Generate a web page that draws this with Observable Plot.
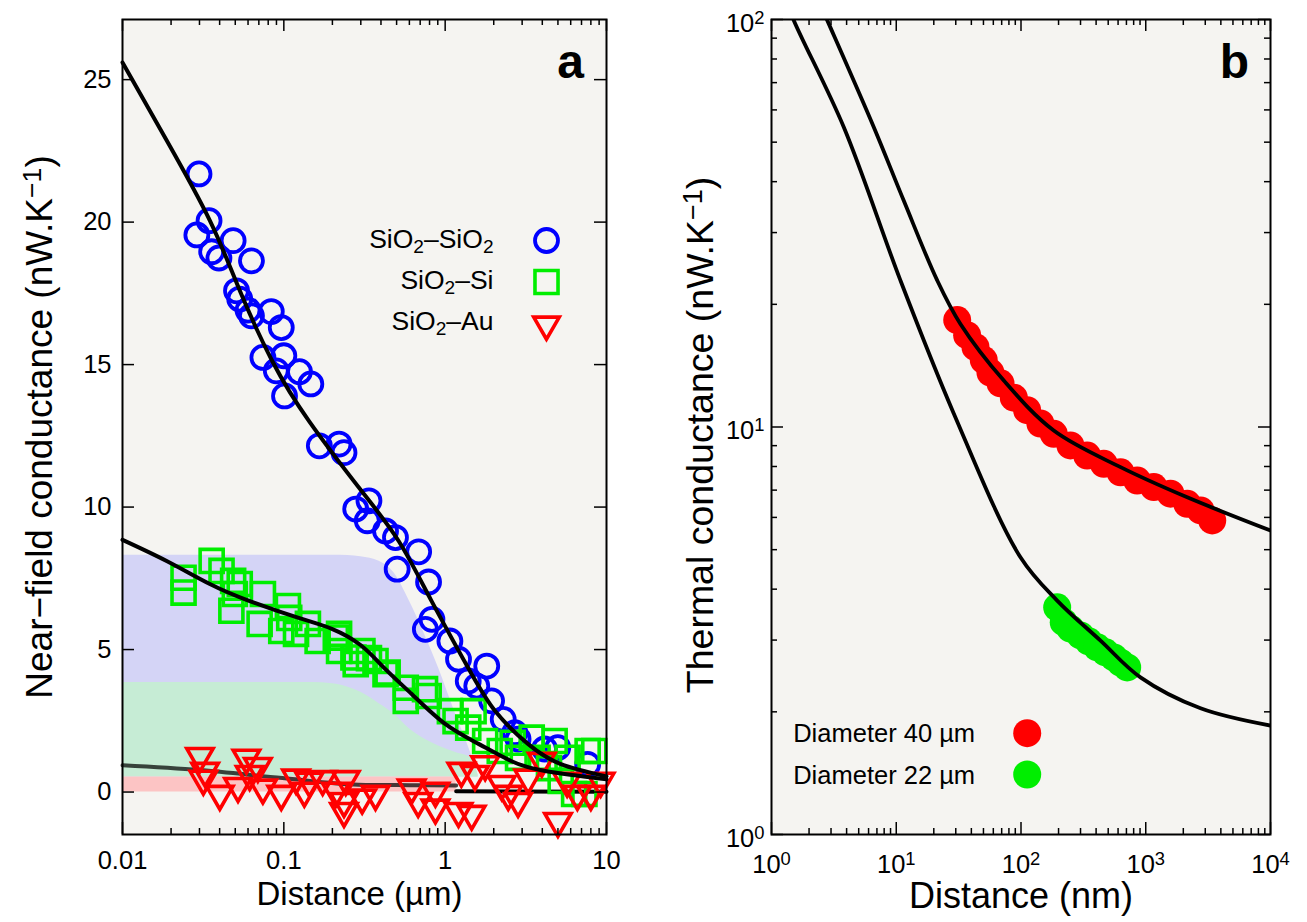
<!DOCTYPE html>
<html><head><meta charset="utf-8">
<script src="https://cdn.jsdelivr.net/npm/d3@7"></script>
<script src="https://cdn.jsdelivr.net/npm/@observablehq/plot@0.6"></script>
<style>
html,body{margin:0;padding:0;background:#fff;}
#wrap{position:relative;width:1307px;height:922px;overflow:hidden;font-family:"Liberation Sans",Arial,Helvetica,sans-serif;}
#pa{position:absolute;left:0;top:0;}
#pb{position:absolute;left:660px;top:0;}
</style></head><body><div id="wrap"><div id="pa"></div><div id="pb"></div></div>
<script>
// ================= Panel a data (distance in µm, conductance in nW/K) =================
const sio2X = [0.0298,0.0344,0.0289,0.0357,0.0396,0.0485,0.0630,0.0509,0.0533,0.060,0.0630,0.0836,0.0964,0.0742,0.100,0.0898,0.125,0.147,0.101,0.166,0.220,0.236,0.279,0.337,0.329,0.427,0.492,0.504,0.685,0.789,0.754,0.828,1.07,1.21,1.39,1.81,1.57,1.94,2.29,2.70,2.83,4.99,4.13,7.64];
const sio2Y = [21.69,20.05,19.55,18.96,18.74,19.35,18.64,17.59,17.30,16.91,16.71,16.86,16.30,15.25,15.31,14.78,14.75,14.32,13.90,12.15,12.21,11.91,9.93,10.22,9.52,9.16,8.93,7.82,8.43,7.37,5.71,6.06,5.30,4.66,3.90,4.42,3.72,3.20,2.55,2.08,1.86,1.56,1.51,0.97];

const siX = [0.0239,0.0239,0.0357,0.0411,0.0485,0.0497,0.0473,0.0533,0.0742,0.0708,0.106,0.108,0.0964,0.119,0.141,0.162,0.220,0.220,0.307,0.337,0.279,0.427,0.21,0.27,0.37,0.44,0.57,0.75,0.79,0.57,1.07,1.16,1.50,1.39,1.77,2.18,2.62,3.44,2.83,4.77,3.74,5.74,7.64,8.4,6.3,7.3,5.2,4.4];
const siY = [7.52,7.0,8.11,7.76,7.41,6.95,6.36,7.30,6.95,5.90,6.53,6.11,5.65,5.55,5.90,5.30,5.55,4.95,4.95,4.70,4.49,4.14,5.42,4.72,4.60,4.19,3.66,3.61,3.37,3.20,2.84,2.49,2.84,2.26,1.79,1.44,1.73,1.91,1.20,1.79,1.20,1.20,1.44,1.44,-0.07,-0.07,0.39,0.84];

const auX = [0.0302,0.0325,0.0317,0.0401,0.0586,0.069,0.0614,0.052,0.0742,0.0964,0.119,0.144,0.134,0.174,0.242,0.236,0.236,0.21,0.306,0.37,0.62,0.68,0.87,1.21,1.46,0.87,1.26,1.53,1.77,2.24,2.46,2.83,3.27,3.97,5.0,5.7,6.6,8.0,9.2];
const auY = [1.26,0.74,0.46,-0.07,1.20,0.91,0.63,0.21,0.15,-0.07,0.50,0.39,0.04,0.45,0.45,-0.32,-0.67,0.04,-0.2,-0.07,0.15,-0.32,-0.55,-0.67,-0.77,0.04,0.74,0.63,0.97,0.28,-0.07,-0.32,0.50,1.09,-1.02,0.39,-0.07,-0.07,0.39];

const fitSiO2X = [0.01,0.0188,0.0348,0.0533,0.0852,0.144,0.3,0.516,0.824,1.39,2.04,3.26,5.21,10];
const fitSiO2Y = [25.6,22.86,20.05,17.6,15.1,13.0,10.6,8.8,6.7,4.35,2.84,1.69,0.98,0.55];
const fitSiX = [0.01,0.0189,0.0348,0.0615,0.125,0.2,0.3,0.42,0.62,1.0,1.61,2.56,4.16,10];
const fitSiY = [8.85,8.1,7.3,6.7,6.1,5.72,5.15,4.35,3.44,2.39,1.69,1.09,0.74,0.45];
const fitAuX = [0.01,0.03,0.098,0.29,0.6,1.17];
const fitAuY = [0.94,0.77,0.49,0.26,0.24,0.23];
const tailAuX = [1.17,10];
const tailAuY = [0.03,0.01];

const shadeX = [0.01,0.15,0.2,0.25,0.3,0.39,0.48,0.6,0.75,0.91,1.15,1.45,1.6];
const shadeBlueTop = [8.31,8.31,8.31,8.3,8.26,8.1,7.7,6.7,5.5,4.35,2.8,1.33,0.6];
const shadeGreenTop = [3.84,3.84,3.8,3.68,3.5,3.1,2.75,2.22,1.85,1.62,1.4,1.2,0.6];
const shadeBase = 0.53;
const pinkX = [0.01,1.17];
const pinkTop = 0.53;

const legendA = ["SiO_{2}–SiO_{2}","SiO_{2}–Si","SiO_{2}–Au"];
const xTicksA = [0.01,0.1,1,10];
const xTickLabelsA = ["0.01","0.1","1","10"];
const xMinorA = [0.02,0.03,0.04,0.05,0.06,0.07,0.08,0.09,0.2,0.3,0.4,0.5,0.6,0.7,0.8,0.9,2,3,4,5,6,7,8,9];
const yTicksA = [0,5,10,15,20,25];

// ================= Panel b data (distance in nm, conductance in nW/K) =================
const fit40X = [2.25,2.8,6.61,11.5,21.3,32.7,72.8,183,628,2150,10000];
const fit40Y = [115.8,99.5,54.4,35.9,22.9,17.9,13.0,9.80,7.97,6.72,5.57];
const fit22X = [1.25,1.51,3.80,10.8,28.9,99,195,434,907,2750,10000];
const fit22Y = [115.8,99.5,54.4,22.9,10.8,4.79,3.75,2.99,2.43,2.04,1.85];
const d40X = [30.8,37.0,43.2,50.3,56.9,68.5,87.6,112,143,183,249,339,461,628,854,1160,1579,2150,2750,3410];
const d40Y = [18.3,16.8,15.7,14.6,13.6,12.8,11.8,11.0,10.2,9.62,9.01,8.51,8.12,7.74,7.39,7.12,6.86,6.48,6.24,5.90];
const d22X = [195,220,249,300,348,408,475,555,628,710];
const d22Y = [3.61,3.32,3.20,3.08,2.98,2.88,2.80,2.72,2.64,2.57];

const legendB = ["Diameter 40 µm","Diameter 22 µm"];
const xTicksB = [1,10,100,1000,10000];
const xMinorB = [2,3,4,5,6,7,8,9,20,30,40,50,60,70,80,90,200,300,400,500,600,700,800,900,2000,3000,4000,5000,6000,7000,8000,9000];
const yTicksB = [1,10,100];
const yMinorB = [2,3,4,5,6,7,8,9,20,30,40,50,60,70,80,90];

// ================= helpers =================
const FONT = "Liberation Sans, Arial, Helvetica, sans-serif";
const invTriangle = {
  draw(context, size) {
    const y = Math.sqrt(size / (3 * Math.sqrt(3)));
    context.moveTo(0, 2 * y);
    context.lineTo(-Math.sqrt(3) * y, -y);
    context.lineTo(Math.sqrt(3) * y, -y);
    context.closePath();
  }
};
function frameTicks(xMajor, xMinor, yMajor, yMinor, pw, ph) {
  const st = {stroke: "#000", strokeWidth: 1.5};
  const m = [];
  for (const [vals, len] of [[xMajor, 12], [xMinor, 6]]) {
    if (!vals) continue;
    m.push(Plot.tickX(vals, {x: d => d, insetTop: ph - len, ...st}));
    m.push(Plot.tickX(vals, {x: d => d, insetBottom: ph - len, ...st}));
  }
  for (const [vals, len] of [[yMajor, 12], [yMinor, 6]]) {
    if (!vals) continue;
    m.push(Plot.tickY(vals, {y: d => d, insetRight: pw - len, ...st}));
    m.push(Plot.tickY(vals, {y: d => d, insetLeft: pw - len, ...st}));
  }
  return m;
}
function rich(svg) {
  d3.select(svg).selectAll("text").each(function () {
    const el = this;
    if (el.querySelector("tspan")) el.querySelectorAll("tspan").forEach(ts => richNode(ts));
    else richNode(el);
  });
}
function richNode(el) {
  const s = el.textContent;
  if (!/[_^]\{/.test(s)) return;
  while (el.firstChild) el.removeChild(el.firstChild);
  for (const p of s.split(/([_^]\{[^}]*\})/)) {
    if (!p) continue;
    const t = document.createElementNS("http://www.w3.org/2000/svg", "tspan");
    if (/^[_^]\{/.test(p)) {
      t.textContent = p.slice(2, -1);
      t.setAttribute("baseline-shift", p[0] === "_" ? "-28%" : "42%");
      t.setAttribute("font-size", "72%");
    } else t.textContent = p;
    el.appendChild(t);
  }
}
const T = (extra) => ({text: d => d, lineAnchor: "middle", ...extra});

// ================= Panel a =================
const aW = 660, aH = 922, aML = 122, aMR = 54, aMT = 19, aMB = 88;
const aPW = aW - aML - aMR, aPH = aH - aMT - aMB;
const lineSt = {stroke: "#000", strokeWidth: 4, curve: "natural"};
const plotA = Plot.plot({
  width: aW, height: aH, marginLeft: aML, marginRight: aMR, marginTop: aMT, marginBottom: aMB,
  style: {fontFamily: FONT, fontSize: "25px", color: "#000", background: "transparent", overflow: "visible"},
  x: {type: "log", domain: [0.01, 10]},
  y: {domain: [-1.49, 27.11]},
  marks: [
    Plot.frame({fill: "#f5f4f1", stroke: "none"}),
    Plot.areaY(shadeX, {x: shadeX, y1: shadeBase, y2: shadeBlueTop, fill: "#d4d4f6", curve: "monotone-x"}),
    Plot.areaY(shadeX, {x: shadeX, y1: shadeBase, y2: shadeGreenTop, fill: "#c6ecd5", curve: "monotone-x"}),
    Plot.areaY(pinkX, {x: pinkX, y1: 0, y2: pinkTop, fill: "#fcc4c4"}),
    Plot.line(fitAuX, {x: fitAuX, y: fitAuY, ...lineSt, curve: "monotone-x", strokeOpacity: 0.72}),
    Plot.line(tailAuX, {x: tailAuX, y: tailAuY, ...lineSt, curve: "linear"}),
    Plot.dot(sio2X, {x: sio2X, y: sio2Y, r: 11.5, stroke: "#0000ff", strokeWidth: 3.8, fill: "none"}),
    Plot.dot(siX, {x: siX, y: siY, r: 13, symbol: "square", stroke: "#00ee00", strokeWidth: 3.6, fill: "none"}),
    Plot.dot(auX, {x: auX, y: auY, r: 9.8, symbol: invTriangle, stroke: "#ff0000", strokeWidth: 3.6, fill: "none"}),
    Plot.line(fitSiO2X, {x: fitSiO2X, y: fitSiO2Y, ...lineSt}),
    Plot.line(fitSiX, {x: fitSiX, y: fitSiY, ...lineSt}),
    // legend
    Plot.text([legendA[0]], {frameAnchor: "top-left", dx: 371, dy: 220, ...T({textAnchor: "end", fontSize: 26.5})}),
    Plot.text([legendA[1]], {frameAnchor: "top-left", dx: 371, dy: 261, ...T({textAnchor: "end", fontSize: 26.5})}),
    Plot.text([legendA[2]], {frameAnchor: "top-left", dx: 371, dy: 302, ...T({textAnchor: "end", fontSize: 26.5})}),
    Plot.dot([0], {frameAnchor: "top-left", dx: 424, dy: 221, r: 11.5, stroke: "#0000ff", strokeWidth: 3.8, fill: "none"}),
    Plot.dot([0], {frameAnchor: "top-left", dx: 424, dy: 262.5, r: 13, symbol: "square", stroke: "#00ee00", strokeWidth: 3.6, fill: "none"}),
    Plot.dot([0], {frameAnchor: "top-left", dx: 424, dy: 305, r: 9.5, symbol: invTriangle, stroke: "#ff0000", strokeWidth: 3.6, fill: "none"}),
    Plot.text(["a"], {frameAnchor: "top-left", dx: 448, dy: 43.5, ...T({textAnchor: "middle", fontSize: 48, fontWeight: "bold"})}),
    // axes
    ...frameTicks(xTicksA, xMinorA, yTicksA, null, aPW, aPH),
    Plot.axisX(xTicksA, {anchor: "bottom", tickSize: 0, tickPadding: 16, fontSize: 25.5, label: null,
      tickFormat: d => xTickLabelsA[xTicksA.indexOf(d)]}),
    Plot.axisY(yTicksA, {anchor: "left", tickSize: 0, tickPadding: 11, fontSize: 25.5, label: null}),
    Plot.text(["Distance (µm)"], {frameAnchor: "bottom", dx: -5, dy: 60, ...T({textAnchor: "middle", fontSize: 33})}),
    Plot.text(["Near−field conductance (nW.K^{−1})"], {frameAnchor: "left", dx: -82, rotate: -90, ...T({textAnchor: "middle", fontSize: 37})}),
    Plot.frame({stroke: "#000", strokeWidth: 2})
  ]
});
rich(plotA);
document.getElementById("pa").appendChild(plotA);

// ================= Panel b =================
const bW = 647, bH = 922, bML = 111, bMR = 37, bMT = 19, bMB = 88;
const bPW = bW - bML - bMR, bPH = bH - bMT - bMB;
const supLabel = d => "10^{" + Math.round(Math.log10(d)) + "}";
const plotB = Plot.plot({
  width: bW, height: bH, marginLeft: bML, marginRight: bMR, marginTop: bMT, marginBottom: bMB,
  style: {fontFamily: FONT, fontSize: "25px", color: "#000", background: "transparent", overflow: "visible"},
  x: {type: "log", domain: [1, 10000]},
  y: {type: "log", domain: [1, 100]},
  marks: [
    Plot.frame({fill: "#f5f4f1", stroke: "none"}),
    Plot.dot(d40X, {x: d40X, y: d40Y, r: 14, fill: "#ff0000"}),
    Plot.dot(d22X, {x: d22X, y: d22Y, r: 14, fill: "#00ee00"}),
    Plot.line(fit40X, {x: fit40X, y: fit40Y, stroke: "#000", strokeWidth: 3.8, curve: "catmull-rom", clip: true}),
    Plot.line(fit22X, {x: fit22X, y: fit22Y, stroke: "#000", strokeWidth: 3.8, curve: "catmull-rom", clip: true}),
    Plot.text([legendB[0]], {frameAnchor: "bottom-left", dx: 21.7, dy: -100.3, ...T({textAnchor: "start", fontSize: 25.5})}),
    Plot.text([legendB[1]], {frameAnchor: "bottom-left", dx: 21.7, dy: -59, ...T({textAnchor: "start", fontSize: 25.5})}),
    Plot.dot([0], {frameAnchor: "bottom-left", dx: 255.7, dy: -101.3, r: 14, fill: "#ff0000"}),
    Plot.dot([0], {frameAnchor: "bottom-left", dx: 255.7, dy: -60, r: 14, fill: "#00ee00"}),
    Plot.text(["b"], {frameAnchor: "top-left", dx: 463, dy: 43.5, ...T({textAnchor: "middle", fontSize: 48, fontWeight: "bold"})}),
    ...frameTicks(xTicksB, xMinorB, yTicksB, yMinorB, bPW, bPH),
    Plot.axisX(xTicksB, {anchor: "bottom", tickSize: 0, tickPadding: 20, fontSize: 25.5, label: null, tickFormat: supLabel}),
    Plot.axisY(yTicksB, {anchor: "left", tickSize: 0, tickPadding: 7, dy: 4, fontSize: 25.5, label: null, tickFormat: supLabel}),
    Plot.text(["Distance (nm)"], {frameAnchor: "bottom", dy: 62, ...T({textAnchor: "middle", fontSize: 36})}),
    Plot.text(["Thermal conductance (nW.K^{−1})"], {frameAnchor: "left", dx: -71, dy: 8, rotate: -90, ...T({textAnchor: "middle", fontSize: 37.5})}),
    Plot.frame({stroke: "#000", strokeWidth: 2})
  ]
});
rich(plotB);
document.getElementById("pb").appendChild(plotB);
</script>
</body></html>
